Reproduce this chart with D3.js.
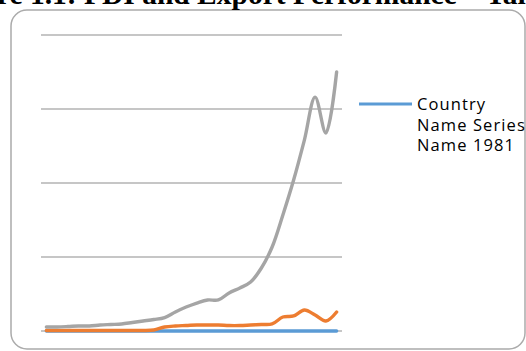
<!DOCTYPE html>
<html>
<head>
<meta charset="utf-8">
<style>
body, html { margin: 0; padding: 0; background: #fff; overflow: hidden; }
svg { display: block; }
.grid line { stroke: #b3b3b3; stroke-width: 1.4px; }
.series { fill: none; stroke-width: 3.4px; stroke-linejoin: round; stroke-linecap: round; }
.title { font-family: "Liberation Serif", serif; font-weight: bold; font-size: 29.5px; }
.legend text { font-family: "Open Sans", sans-serif; font-size: 16.5px; letter-spacing: 1.1px; fill: #000; }
</style>
<script src="https://d3js.org/d3.v7.min.js"></script>
</head>
<body>
<script>
// years on the (unlabelled) category axis
var years = d3.range(1981, 2009);
var yTicks = [0, 100, 200, 300, 400];

var seriesNames = ["Country Name Series Name 1981", "Series 2", "Series 3"];
var colors = ["#5b9bd5", "#ed7d31", "#a5a5a5"];

// values (grid step = 100)
var blue = [0, 0, 0, 0, 0, 0, 0, 0, 0, 0, 0, 0, 0, 0, 0, 0, 0, 0, 0, 0, 0, 0, 0, 0, 0, 0, 0, 0];
var orange = [0.7, 0.7, 0.7, 0.7, 0.7, 0.7, 0.7, 0.7, 0.7, 0.7, 1.4, 5.4, 6.8, 7.4, 8.1, 8.1,
  8.1, 7.4, 7.4, 8.1, 8.8, 9.5, 18.9, 20.3, 28.4, 21.6, 13.5, 25.7];
var gray = [5.4, 5.4, 6, 6.8, 6.8, 8.1, 8.8, 9.5, 11.5, 13.5, 15.5, 18.2, 25.7, 32.4, 37.8, 41.9,
  41.9, 51.4, 58.1, 66.2, 85.1, 113.5, 156.8, 204, 258, 316, 267.6, 350];

var W = 526, H = 351;
var svg = d3.select("body").append("svg").attr("width", W).attr("height", H);

// outer chart border
svg.append("rect")
  .attr("x", 11).attr("y", 10)
  .attr("width", 514).attr("height", 339)
  .attr("rx", 16).attr("ry", 16)
  .attr("fill", "#fff")
  .attr("stroke", "#ababab").attr("stroke-width", 1.5);

// title, cut off by the top of the page
var title = svg.append("text")
  .attr("class", "title")
  .attr("y", 4)
  .text("Figure 1.1: FDI and Export Performance \u2013 Taiwan");
var off = title.node().getSubStringLength(0, title.text().indexOf("FDI"));
title.attr("x", 84 - off);

var x = d3.scalePoint().domain(years).range([41, 342]).padding(0.5);
var y = d3.scaleLinear().domain([0, 400]).range([331, 35]);

svg.append("g").attr("class", "grid")
  .selectAll("line").data(yTicks).join("line")
  .attr("x1", 41).attr("x2", 342)
  .attr("y1", function(d) { return y(d); })
  .attr("y2", function(d) { return y(d); });

var line = d3.line()
  .x(function(d, i) { return x(years[i]); })
  .y(function(d) { return y(d); })
  .curve(d3.curveCatmullRom.alpha(0.5));

[blue, orange, gray].forEach(function(s, i) {
  svg.append("path")
    .datum(s)
    .attr("class", "series")
    .attr("stroke", colors[i])
    .attr("d", line);
});

// legend (truncated in the original)
var lg = svg.append("g").attr("class", "legend");
lg.append("line")
  .attr("x1", 359).attr("x2", 412)
  .attr("y1", 104).attr("y2", 104)
  .attr("stroke", colors[0]).attr("stroke-width", 3);
var legendLines = ["Country", "Name Series", "Name 1981"];
lg.selectAll("text").data(legendLines).join("text")
  .attr("x", 417)
  .attr("y", function(d, i) { return 110 + i * 20.5; })
  .text(function(d) { return d; });
</script>
</body>
</html>
